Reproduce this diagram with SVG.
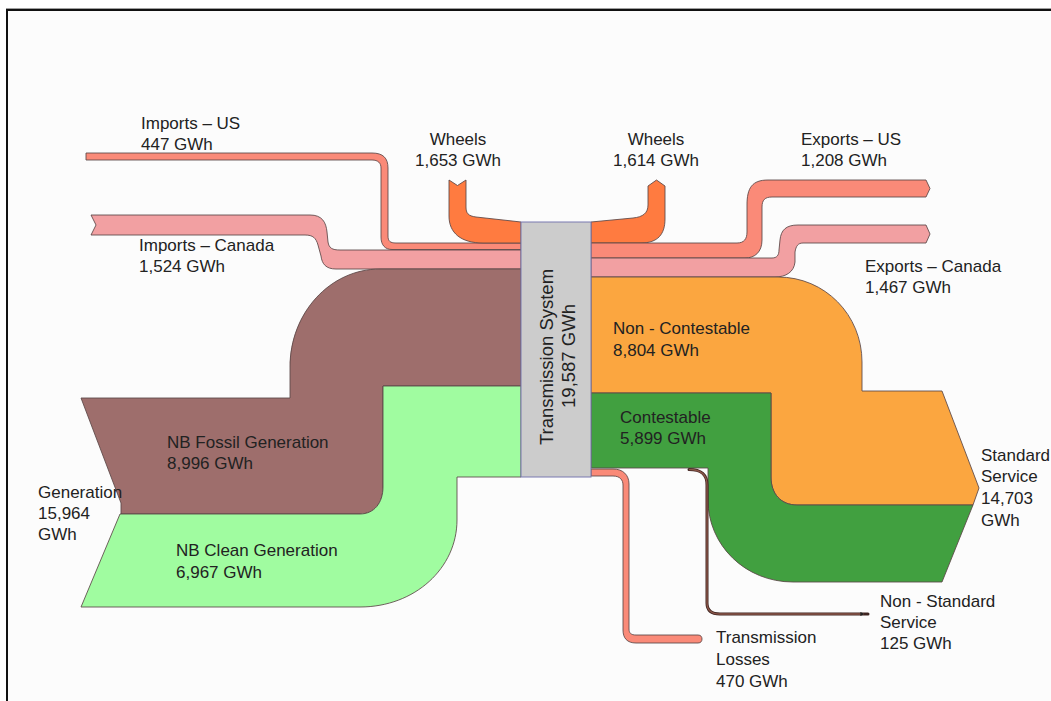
<svg xmlns="http://www.w3.org/2000/svg" width="1051" height="701" viewBox="0 0 1051 701">
<defs>
<style>
.t{font-family:"Liberation Sans",Arial,sans-serif;font-size:17px;fill:#222}
.tr{font-family:"Liberation Sans",Arial,sans-serif;font-size:18.5px;fill:#222}
.b{stroke:#5a4646;stroke-width:1;stroke-opacity:0.85;stroke-linejoin:round}
.salmon{fill:#fa8a78}
.pink{fill:#f2a0a2}
.wheel{fill:#ff7b40}
.fossil{fill:#9e6e6c}
.clean{fill:#a0fca0}
.noncont{fill:#fba640}
.cont{fill:#41a040}
</style>
<marker id="arr" viewBox="0 0 10 10" refX="9" refY="5" markerWidth="4" markerHeight="4" orient="auto" markerUnits="userSpaceOnUse">
<path d="M0,0 L10,5 L0,10 Z" fill="#222"/>
</marker>
</defs>
<rect x="0" y="0" width="1051" height="701" fill="#ffffff"/>
<rect x="8" y="11" width="1043" height="690" fill="#fcfcfc"/>
<line x1="6" y1="8.5" x2="1051" y2="8.5" stroke="#a0a0a0" stroke-width="1"/>
<line x1="6" y1="10" x2="1051" y2="10" stroke="#111" stroke-width="2"/>
<line x1="7" y1="9" x2="7" y2="701" stroke="#111" stroke-width="2"/>

<g id="connectors">
<path id="imports-us" class="b salmon" d="M86,153 L372,153 C383,153 388,158 388,168 L388,236 C388,241 390,243 396,243 L521,243 L521,249.5 L392,249.5 C385,249.5 381,245 381,237 L381,168 C381,163 378,160 372,160 L86,160 Z"/>
<path id="imports-canada" class="b pink" d="M91,215 L310,215 C322,215 326,222 327,232 L328,242 C329,248 332,250 340,250 L521,250 L521,269 L336,269 C326,269 322,264 321,256 L318,245 C316,238 313,235 305,235 L91,235 L96,225 Z"/>
<path id="wheels-in" class="b wheel" d="M449,180 L457.5,185.5 L466,180 L466,207 C466,213 468,216 476,217 L521,222 L521,243 L483,243 C461,243 449,233 449,216 Z"/>
<path id="wheels-out" class="b wheel" d="M591,222 L633,218 C643,217 648,213 648,205 L648,186 L656.5,180 L665,186 L665,219 C665,234 658,243 641,243 L591,243 Z"/>
<path id="fossil" class="b fossil" d="M81,398 L290,398 L290,367 C290,313 330,269 380,269 L521,269 L521,386 L383,386 L383,487 C383,503 374,514 360,514 L121,514 L121,503 Z"/>
<path id="clean" class="b clean" d="M383,386 L521,386 L521,477 L457,477 L457,520 C457,568 415,607 360,607 L81,607 L120,514 L360,514 C374,514 383,503 383,487 Z"/>
<path id="exports-us" class="b salmon" d="M591,243 L737,243 C744,243 747,239 747,232 L747,205 C747,188 752,180 768,180 L926,180 L930,188.5 L926,197 L772,197 C765,197 762,200 762,207 L762,240 C762,252 755,258 745,258 L591,258 Z"/>
<path id="exports-canada" class="b pink" d="M591,258 L772,258 C777,258 779,255 779,250 L780,240 C781,230 786,225 798,225 L926,225 L930,234 L926,243 L803,243 C798,243 796,246 795,252 L795,262 C794,272 786,277 775,277 L591,277 Z"/>
<path id="non-contestable" class="b noncont" d="M591,277 L778,277 C825,277 862,315 862,362 L862,391 L942,391 L979,488 L973,505 L797,505 C781,505 771,494 771,477 L771,393 L591,393 Z"/>
<path id="contestable" class="b cont" d="M591,393 L771,393 L771,477 C771,494 781,505 797,505 L973,505 L942,582 L793,582 C745,582 708,545 708,500 L708,468 L591,468 Z"/>
<path id="non-standard" d="M689,469.5 C701,469.5 707,474 707,485 L707,603 C707,610 711,614 720,614 L868,614" fill="none" stroke="#3e2420" stroke-width="3" stroke-linecap="round"/>
<path d="M689,469.5 C701,469.5 707,474 707,485 L707,603 C707,610 711,614 720,614 L864,614" fill="none" stroke="#8a5548" stroke-width="1.4" marker-end="url(#arr)"/>
<path id="losses" class="b salmon" d="M591,469 L613,469 C623,469 629,475 629,484 L629,629 C629,633 631,635 636,635 L698,635 C701,635 702,637 702,639 C702,641 701,643 698,643 L636,643 C627,643 623,638 623,630 L623,485 C623,480 620,476 613,476 L591,476 Z"/>
</g>

<g id="transmission-system">
<rect x="521" y="222" width="70" height="255" fill="#cccccc" stroke="#7878b0" stroke-width="1"/>
<text class="tr" transform="translate(553,357) rotate(-90)" text-anchor="middle">Transmission System</text>
<text class="tr" transform="translate(575,356) rotate(-90)" text-anchor="middle">19,587 GWh</text>
</g>

<g id="node-imports-us">
<text class="t" x="141" y="129">Imports – US</text>
<text class="t" x="141" y="150">447 GWh</text>
</g>
<g id="node-imports-canada">
<text class="t" x="139" y="251">Imports – Canada</text>
<text class="t" x="139" y="272">1,524 GWh</text>
</g>
<g id="node-wheels-in">
<text class="t" x="458" y="145" text-anchor="middle">Wheels</text>
<text class="t" x="458" y="166" text-anchor="middle">1,653 GWh</text>
</g>
<g id="node-wheels-out">
<text class="t" x="656" y="145" text-anchor="middle">Wheels</text>
<text class="t" x="656" y="166" text-anchor="middle">1,614 GWh</text>
</g>
<g id="node-exports-us">
<text class="t" x="801" y="145">Exports – US</text>
<text class="t" x="801" y="166">1,208 GWh</text>
</g>
<g id="node-exports-canada">
<text class="t" x="865" y="272">Exports – Canada</text>
<text class="t" x="865" y="293">1,467 GWh</text>
</g>
<g id="node-non-contestable">
<text class="t" x="613" y="334">Non - Contestable</text>
<text class="t" x="613" y="356">8,804 GWh</text>
</g>
<g id="node-contestable">
<text class="t" x="620" y="423">Contestable</text>
<text class="t" x="620" y="444">5,899 GWh</text>
</g>
<g id="node-fossil">
<text class="t" x="167" y="448">NB Fossil Generation</text>
<text class="t" x="167" y="469">8,996 GWh</text>
</g>
<g id="node-clean">
<text class="t" x="176" y="556">NB Clean Generation</text>
<text class="t" x="176" y="578">6,967 GWh</text>
</g>
<g id="node-generation">
<text class="t" x="38" y="498">Generation</text>
<text class="t" x="38" y="519">15,964</text>
<text class="t" x="38" y="540">GWh</text>
</g>
<g id="node-standard-service">
<text class="t" x="981" y="461">Standard</text>
<text class="t" x="981" y="482">Service</text>
<text class="t" x="981" y="504">14,703</text>
<text class="t" x="981" y="526">GWh</text>
</g>
<g id="node-non-standard-service">
<text class="t" x="880" y="607">Non - Standard</text>
<text class="t" x="880" y="628">Service</text>
<text class="t" x="880" y="649">125 GWh</text>
</g>
<g id="node-transmission-losses">
<text class="t" x="716" y="643">Transmission</text>
<text class="t" x="716" y="665">Losses</text>
<text class="t" x="716" y="687">470 GWh</text>
</g>
</svg>
